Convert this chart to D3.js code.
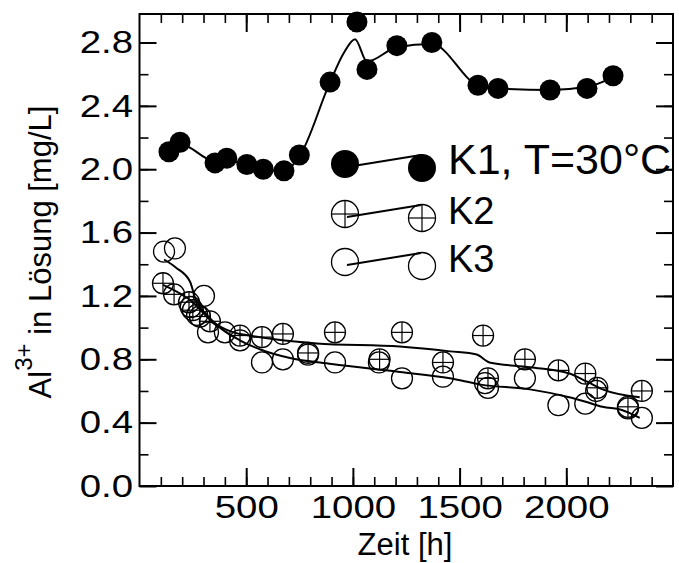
<!DOCTYPE html>
<html>
<head>
<meta charset="utf-8">
<script src="https://cdn.jsdelivr.net/npm/d3@7"></script>
<style>
  body { margin: 0; background: #fff; }
  text { font-family: "Liberation Sans", Arial, sans-serif; fill: #000; }
</style>
</head>
<body>
<svg id="chart" width="679" height="563"></svg>
<script>
// Measured Al3+ concentration over time, three samples
const k1Time = [138, 190, 354, 409, 503, 580, 677, 749, 893, 1019, 1066, 1206, 1370, 1586, 1680, 1924, 2097, 2219];
const k1Al   = [2.11, 2.17, 2.04, 2.07, 2.03, 2.00, 1.99, 2.09, 2.55, 2.93, 2.63, 2.78, 2.80, 2.53, 2.51, 2.50, 2.51, 2.59];

const k2Time = [110, 162, 232, 250, 283, 330, 471, 574, 672, 790, 916, 1125, 1230, 1422, 1610, 1633, 1806, 1963, 2089, 2145, 2289, 2354];
const k2Al   = [1.28, 1.21, 1.16, 1.11, 1.07, 1.04, 0.95, 0.94, 0.96, 0.84, 0.97, 0.80, 0.97, 0.78, 0.95, 0.68, 0.80, 0.73, 0.71, 0.62, 0.50, 0.60];

const k3Time = [115, 166, 240, 270, 302, 321, 400, 471, 574, 672, 790, 916, 1122, 1230, 1422, 1619, 1633, 1806, 1963, 2089, 2140, 2289, 2354];
const k3Al   = [1.48, 1.50, 1.13, 1.08, 1.20, 0.97, 0.97, 0.92, 0.78, 0.80, 0.83, 0.78, 0.78, 0.68, 0.69, 0.65, 0.62, 0.68, 0.51, 0.52, 0.60, 0.49, 0.43];

// Smoothed trend curves
const k1FitTime = [138, 190, 354, 409, 503, 580, 677, 749, 893, 960, 1010, 1066, 1206, 1370, 1586, 1680, 1924, 2097, 2219];
const k1FitAl   = [2.11, 2.16, 2.05, 2.06, 2.02, 1.99, 1.99, 2.08, 2.55, 2.74, 2.82, 2.68, 2.77, 2.79, 2.53, 2.51, 2.50, 2.52, 2.58];

const k2FitTime = [110, 250, 330, 440, 515, 670, 830, 1220, 1455, 1580, 1640, 1830, 2014, 2095, 2170, 2344];
const k2FitAl   = [1.27, 1.16, 1.05, 0.97, 0.95, 0.92, 0.90, 0.88, 0.85, 0.83, 0.78, 0.75, 0.71, 0.66, 0.61, 0.56];

const k3FitTime = [115, 170, 237, 260, 316, 377, 470, 570, 700, 900, 1220, 1455, 1600, 1830, 2014, 2095, 2170, 2260, 2344];
const k3FitAl   = [1.43, 1.38, 1.29, 1.19, 1.08, 1.00, 0.92, 0.86, 0.81, 0.77, 0.72, 0.68, 0.64, 0.61, 0.56, 0.53, 0.50, 0.48, 0.43];

const xMajorTicks = [500, 1000, 1500, 2000];
const xMinorTicks = d3.range(100, 2500, 100);
const yMajorTicks = [0.0, 0.4, 0.8, 1.2, 1.6, 2.0, 2.4, 2.8];
const yMinorTicks = d3.range(0.2, 2.9, 0.2);

const legendLabels = ["K1, T=30°C", "K2", "K3"];

const svg = d3.select("#chart");
const L = 139.5, R = 673, T = 14, B = 486;

const x = d3.scaleLinear().domain([0, 2500]).range([L, R]);
const y = d3.scaleLinear().domain([0, 2.98]).range([B, T]);

// ---- axes (ticks point inward on all four sides) ----
function styleTicks(g, w) {
  g.select(".domain").remove();
  g.selectAll(".tick line").attr("stroke", "#000").attr("stroke-width", w);
}

svg.append("g").attr("transform", `translate(0,${B})`)
  .call(d3.axisBottom(x).tickValues(xMinorTicks).tickSize(-9).tickFormat(""))
  .call(g => styleTicks(g, 1.6));
const xb = svg.append("g").attr("transform", `translate(0,${B})`)
  .call(d3.axisBottom(x).tickValues(xMajorTicks).tickSizeInner(-18).tickSizeOuter(0).tickPadding(9).tickFormat(d3.format("d")))
  .call(g => styleTicks(g, 2));
xb.selectAll("text").attr("font-size", 32).attr("transform", "scale(1.2,1)");

svg.append("g").attr("transform", `translate(0,${T})`)
  .call(d3.axisTop(x).tickValues(xMinorTicks).tickSize(-9).tickFormat(""))
  .call(g => styleTicks(g, 1.6));
svg.append("g").attr("transform", `translate(0,${T})`)
  .call(d3.axisTop(x).tickValues(xMajorTicks).tickSize(-18).tickFormat(""))
  .call(g => styleTicks(g, 2));

svg.append("g").attr("transform", `translate(${L},0)`)
  .call(d3.axisLeft(y).tickValues(yMinorTicks).tickSize(-9).tickFormat(""))
  .call(g => styleTicks(g, 1.6));
const yl = svg.append("g").attr("transform", `translate(${L},0)`)
  .call(d3.axisLeft(y).tickValues(yMajorTicks).tickSizeInner(-17).tickSizeOuter(0).tickFormat(d3.format(".1f")))
  .call(g => styleTicks(g, 2));
yl.selectAll("text").attr("font-size", 32).attr("x", null)
  .attr("transform", "translate(-6.5,0) scale(1.2,1)");

svg.append("g").attr("transform", `translate(${R},0)`)
  .call(d3.axisRight(y).tickValues(yMinorTicks).tickSize(-9).tickFormat(""))
  .call(g => styleTicks(g, 1.6));
svg.append("g").attr("transform", `translate(${R},0)`)
  .call(d3.axisRight(y).tickValues(yMajorTicks).tickSize(-17).tickFormat(""))
  .call(g => styleTicks(g, 2));

svg.append("rect").attr("x", L).attr("y", T).attr("width", R - L).attr("height", B - T)
  .attr("fill", "none").attr("stroke", "#000").attr("stroke-width", 2);

// ---- axis titles ----
svg.append("text").attr("x", 405).attr("y", 555).attr("text-anchor", "middle")
  .attr("font-size", 31).text("Zeit [h]");

const yTitle = svg.append("text")
  .attr("transform", "translate(51,252) rotate(-90)")
  .attr("text-anchor", "middle").attr("font-size", 31);
yTitle.append("tspan").text("Al");
yTitle.append("tspan").attr("font-size", 24).attr("dy", -19).text("3+");
yTitle.append("tspan").attr("dy", 19).text(" in Lösung [mg/L]");

// ---- curves ----
const line = d3.line().x(d => x(d[0])).y(d => y(d[1])).curve(d3.curveMonotoneX);
[[k1FitTime, k1FitAl], [k2FitTime, k2FitAl], [k3FitTime, k3FitAl]].forEach(([t, v]) => {
  svg.append("path").datum(d3.zip(t, v)).attr("d", line)
    .attr("fill", "none").attr("stroke", "#000").attr("stroke-width", 2);
});

// ---- markers ----
const r = 10.5;
function filledMarker(g, cx, cy, rad) {
  g.append("circle").attr("cx", cx).attr("cy", cy).attr("r", rad).attr("fill", "#000");
}
function crossMarker(g, cx, cy, rad) {
  g.append("circle").attr("cx", cx).attr("cy", cy).attr("r", rad)
    .attr("fill", "none").attr("stroke", "#000").attr("stroke-width", 1.3);
  g.append("line").attr("x1", cx - rad).attr("x2", cx + rad).attr("y1", cy).attr("y2", cy)
    .attr("stroke", "#000").attr("stroke-width", 1.2);
  g.append("line").attr("x1", cx).attr("x2", cx).attr("y1", cy - rad).attr("y2", cy + rad)
    .attr("stroke", "#000").attr("stroke-width", 1.2);
}
function openMarker(g, cx, cy, rad) {
  g.append("circle").attr("cx", cx).attr("cy", cy).attr("r", rad)
    .attr("fill", "none").attr("stroke", "#000").attr("stroke-width", 1.3);
}

const pts = svg.append("g");
d3.zip(k3Time, k3Al).forEach(d => openMarker(pts, x(d[0]), y(d[1]), r));
d3.zip(k2Time, k2Al).forEach(d => crossMarker(pts, x(d[0]), y(d[1]), r));
d3.zip(k1Time, k1Al).forEach(d => filledMarker(pts, x(d[0]), y(d[1]), r));

// ---- legend ----
const legendMarkers = [filledMarker, crossMarker, openMarker];
const legendRadius = [14, 13.5, 13.5];
const legendFont = [43, 38, 38];
const rowY = [164, 214, 262];
const lg = svg.append("g");
legendLabels.forEach((label, i) => {
  const yy = rowY[i];
  lg.append("line").attr("x1", 347).attr("y1", yy + 3).attr("x2", 421).attr("y2", yy - 9)
    .attr("stroke", "#000").attr("stroke-width", 2);
  legendMarkers[i](lg, 345, yy, legendRadius[i]);
  legendMarkers[i](lg, 422, yy + 4, legendRadius[i]);
  lg.append("text").attr("x", 448).attr("y", yy + 10)
    .attr("font-size", legendFont[i]).text(label);
});
</script>
</body>
</html>
